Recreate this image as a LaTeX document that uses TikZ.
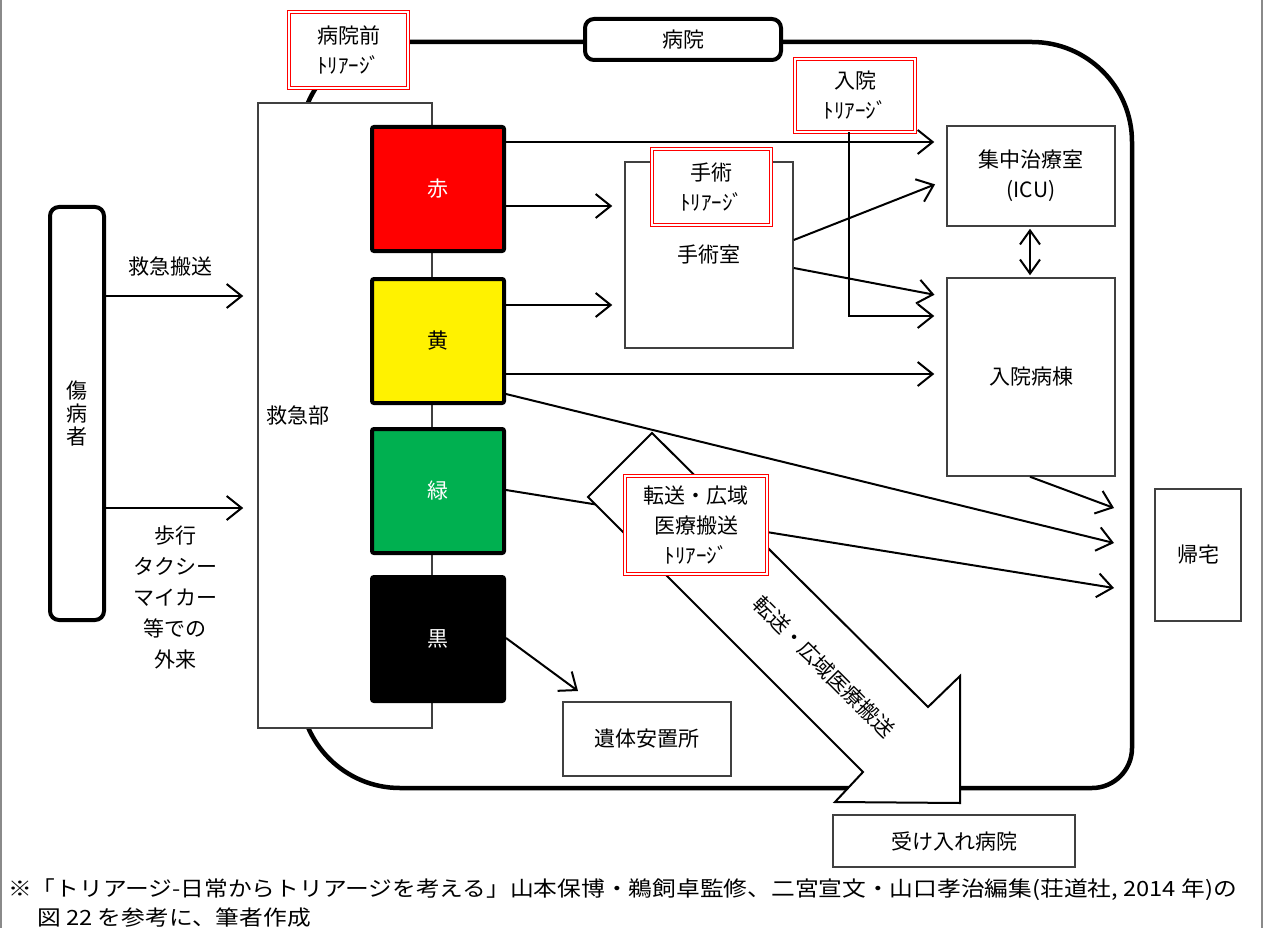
\documentclass[tikz,border=0pt]{standalone}
\usepackage{fontspec}
\setmainfont{Noto Sans CJK JP}
\usetikzlibrary{arrows.meta}
\definecolor{tgreen}{HTML}{00B050}
\definecolor{edge}{HTML}{404040}
\definecolor{frame}{HTML}{8A8A8A}
\begin{document}
\begin{tikzpicture}[x=1pt,y=-1pt,
  every node/.style={font=\fontsize{21}{30}\selectfont, inner sep=0pt, align=center},
  thinbox/.style={draw=edge, line width=1.5pt, fill=white},
  cbox/.style={draw=black, line width=4pt, rounded corners=2pt, minimum width=132pt, minimum height=124pt},
  roundbox/.style={draw=black, line width=4pt, rounded corners=9pt, fill=white},
  triage/.style={draw=red, double=white, double distance=2.2pt, line width=1pt, fill=white},
  arr/.style={line width=2pt, -{Straight Barb[length=15pt,width=24pt,line width=2pt]}, shorten >=12pt},
  dblarr/.style={line width=2pt, {Straight Barb[length=14pt,width=20pt,line width=2pt]}-{Straight Barb[length=14pt,width=20pt,line width=2pt]}, shorten >=2pt, shorten <=2pt},
  bigarrow/.style={draw=black, line width=2pt, fill=white, line join=miter},
  hospline/.style={line width=4.5pt},
  framel/.style={draw=frame, line width=2pt},
]
\useasboundingbox (0,0) rectangle (1263,928);
% page frame lines
\draw[framel] (1,0) -- (1,928);
\draw[framel] (1262,0) -- (1262,928);

% hospital outline
\draw[hospline] (300,142) .. controls (300,86.8) and (344.8,42) .. (400,42) -- (1032,42)
  .. controls (1087.2,42) and (1132,86.8) .. (1132,142) -- (1132,748)
  .. controls (1132,770.1) and (1114.1,788) .. (1092,788) -- (400,788)
  .. controls (344.8,788) and (300,743.2) .. (300,688) -- cycle;

% nodes
\node[roundbox, minimum width=196pt, minimum height=41pt] (hosp) at (683,39.5) {病院};
\node[triage, minimum width=119pt, minimum height=76pt] (pretri) at (348.5,50) {病院前\\ﾄﾘｱｰｼﾞ};
\node[thinbox, minimum width=174pt, minimum height=625pt, text width=158pt, align=left] (kyu) at (345,415.5) {救急部};
\node[roundbox, minimum width=54pt, minimum height=413pt, font=\fontsize{21}{23}\selectfont] (sho) at (77,413.5) {傷\\病\\者};

\node[cbox, fill=red, text=white] (red) at (438,189) {赤};
\node[cbox, fill=yellow, text=black] (yel) at (438,341) {黄};
\node[cbox, fill=tgreen, text=white] (grn) at (438,491) {緑};
\node[cbox, fill=black, text=white] (blk) at (438,639) {黒};

\node (lab1) at (170,267) {救急搬送};
\node[font=\fontsize{21}{31}\selectfont] (lab2) at (175,597) {歩行\\タクシー\\マイカー\\等での\\外来};

\node[thinbox, minimum width=168pt, minimum height=186pt] (ope) at (709,255) {手術室};
\node[thinbox, minimum width=168pt, minimum height=100pt] (icu) at (1031,176) {集中治療室\\(ICU)};
\node[thinbox, minimum width=168pt, minimum height=198pt] (ward) at (1031,377) {入院病棟};
\node[thinbox, minimum width=86pt, minimum height=132pt] (home) at (1198,555) {帰宅};
\node[thinbox, minimum width=168pt, minimum height=74pt] (itai) at (647,739) {遺体安置所};
\node[thinbox, minimum width=242pt, minimum height=52pt] (recv) at (954,841) {受け入れ病院};

\node[triage, minimum width=119pt, minimum height=76pt] (optri) at (711.5,187) {手術\\ﾄﾘｱｰｼﾞ};
\node[triage, minimum width=120pt, minimum height=73pt] (nyutri) at (855,95.5) {入院\\ﾄﾘｱｰｼﾞ};

% free arrow ends
\coordinate (k1) at (1114,508);
\coordinate (k2) at (1114,543);
\coordinate (k3) at (1114,588);
\coordinate (k4) at (578,691);

% connectors
\draw[arr, shorten >=14pt] (sho.east |- 0,296) -- (kyu.west |- 0,296);
\draw[arr, shorten >=14pt] (sho.east |- 0,508) -- (kyu.west |- 0,508);
\draw[arr] (red.east |- 0,142) -- (icu.west |- 0,142);
\draw[arr] (red.east |- 0,206) -- (ope.west |- 0,206);
\draw[arr] (yel.east |- 0,305) -- (ope.west |- 0,305);
\draw[arr] (yel.east |- 0,374) -- (ward.west |- 0,374);
\draw[arr] (ope.east |- 0,240) -- (icu.west |- 0,180);
\draw[arr] (ope.east |- 0,268) -- (ward.west |- 0,297);
\draw[arr] ([xshift=-6pt]nyutri.south) |- (ward.west |- 0,316);
\draw[dblarr] (icu.south -| 1030,0) -- (ward.north -| 1030,0);
\draw[arr, shorten >=0pt] (ward.south -| 1030,0) -- (k1);
\draw[arr, shorten >=0pt] (yel.east |- 0,394) -- (k2);
\draw[arr, shorten >=0pt] (grn.east |- 0,490) -- (k3);
\draw[arr, shorten >=0pt] (blk.east |- 0,638) -- (k4);

% big transfer arrow
\draw[bigarrow] (652,433) -- (928,707) -- (960,676) -- (960,803) -- (835,802) -- (863,772) -- (588,497) -- cycle;
\node[rotate=-45] (arrtxt) at (824,667) {転送・広域医療搬送};
\node[triage, minimum width=142pt, minimum height=98pt] (trtri) at (696,525) {転送・広域\\医療搬送\\ﾄﾘｱｰｼﾞ};

% caption
\node[anchor=west] (cap1) at (8,890) {\scalebox{1.13}[1]{※「トリアージ-日常からトリアージを考える」山本保博・鵜飼卓監修、二宮宣文・山口孝治編集(荘道社, 2014 年)の}};
\node[anchor=west] (cap2) at (37,918) {\scalebox{1.13}[1]{図 22 を参考に、筆者作成}};
\end{tikzpicture}
\end{document}
